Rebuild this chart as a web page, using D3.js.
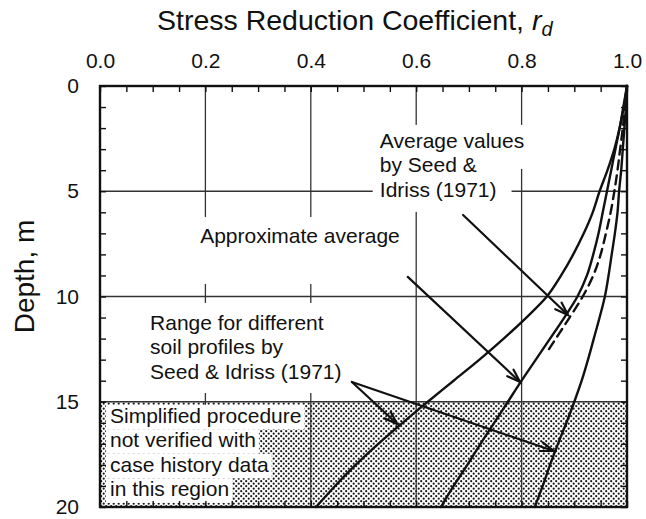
<!DOCTYPE html>
<html>
<head>
<meta charset="utf-8">
<script src="https://cdn.jsdelivr.net/npm/d3@7"></script>
<style>
  html, body { margin: 0; padding: 0; background: #fff; }
  svg { display: block; }
  text { font-family: "Liberation Sans", Arial, Helvetica, sans-serif; fill: #111; }
</style>
</head>
<body>
<svg id="chart" width="646" height="519"></svg>
<script>
// Stress reduction coefficient r_d versus depth (Seed & Idriss, 1971)

const rdTicks = [0, 0.2, 0.4, 0.6, 0.8, 1.0];
const depthTicks = [0, 5, 10, 15, 20];

// Depth (m) at which the bounding curves and the approximate average are read
const depths = [0, 1, 2, 3, 4, 5, 6, 7, 8, 9, 10, 11, 12, 13, 14, 15, 16, 17, 18, 19, 20];

// Range for different soil profiles: lower and upper bounds
const lowerBound = [1.000, 0.994, 0.986, 0.976, 0.963, 0.948, 0.935, 0.918, 0.898, 0.875,
                    0.848, 0.809, 0.766, 0.720, 0.671, 0.622, 0.574, 0.528, 0.485, 0.446, 0.410];
const upperBound = [1.000, 0.998, 0.995, 0.992, 0.989, 0.985, 0.982, 0.977, 0.971, 0.965,
                    0.958, 0.948, 0.937, 0.926, 0.914, 0.900, 0.885, 0.869, 0.854, 0.840, 0.825];

// Approximate average (solid)
const approxAverage = [1.000, 0.993, 0.986, 0.978, 0.970, 0.962, 0.954, 0.946, 0.936, 0.924,
                       0.906, 0.881, 0.854, 0.827, 0.800, 0.774, 0.748, 0.722, 0.697, 0.671, 0.647];

// Average values by Seed & Idriss (1971), dashed
const avgDepths = [0, 1, 2, 3, 4, 5, 6, 7, 8, 9, 10, 11, 12, 12.5];
const seedIdrissAverage = [1.000, 0.996, 0.992, 0.987, 0.982, 0.976, 0.969, 0.960, 0.950, 0.936,
                           0.916, 0.891, 0.865, 0.852];

// Annotation arrows: [rd, depth] start -> [rd, depth] tip
const arrows = [
  { from: [0.689, 6.13], to: [0.888, 10.88] },   // average values
  { from: [0.584, 9.07], to: [0.797, 14.06] },   // approximate average
  { from: [0.478, 14.06], to: [0.564, 16.06] },  // range, lower bound
  { from: [0.478, 14.06], to: [0.861, 17.34] }   // range, upper bound
];

// Text blocks: anchor [rd, depth] of first baseline
const notes = [
  { at: [0.531, 2.94], lines: ["Average values", "by Seed &", "Idriss (1971)"] },
  { at: [0.190, 7.46], lines: ["Approximate average"] },
  { at: [0.095, 11.59], lines: ["Range for different", "soil profiles by", "Seed & Idriss (1971)"] },
  { at: [0.019, 16.00], lines: ["Simplified procedure", "not verified with", "case history data", "in this region"] }
];
const unverifiedFrom = 15;  // depth below which the procedure is not verified

const svg = d3.select("#chart");
const W = 646, H = 519;
const margin = { left: 100, right: 19, top: 86, bottom: 12 };

const x = d3.scaleLinear().domain([0, 1]).range([margin.left, W - margin.right]);
const y = d3.scaleLinear().domain([0, 20]).range([margin.top, H - margin.bottom]);

// stipple pattern for the unverified zone
const defs = svg.append("defs");
const pat = defs.append("pattern").attr("id", "stipple")
  .attr("patternUnits", "userSpaceOnUse").attr("width", 5).attr("height", 5);
pat.append("circle").attr("cx", 1.2).attr("cy", 1.2).attr("r", 1.1).attr("fill", "#1a1a1a");
pat.append("circle").attr("cx", 3.7).attr("cy", 3.7).attr("r", 1.1).attr("fill", "#1a1a1a");

svg.append("rect")
  .attr("x", x(0)).attr("y", y(unverifiedFrom))
  .attr("width", x(1) - x(0)).attr("height", y(20) - y(unverifiedFrom))
  .attr("fill", "url(#stipple)");

// grid lines
const grid = svg.append("g").attr("stroke", "#333").attr("stroke-width", 1.3);
grid.selectAll("line.v").data(rdTicks.slice(1, -1)).join("line")
  .attr("x1", d => x(d)).attr("x2", d => x(d))
  .attr("y1", y(0)).attr("y2", y(20));
grid.selectAll("line.h").data(depthTicks.slice(1, -1)).join("line")
  .attr("x1", x(0)).attr("x2", x(1))
  .attr("y1", d => y(d)).attr("y2", d => y(d));

// white backings behind the notes
const fontSize = 21, lineGap = 24.5;
const measure = svg.append("text").attr("font-size", fontSize).attr("visibility", "hidden");
function textWidth(s) { measure.text(s); return measure.node().getComputedTextLength(); }

const backs = svg.append("g").attr("fill", "#fff");
// average values block
notes[0].lines.forEach((s, i) => {
  const bx = x(notes[0].at[0]), by = y(notes[0].at[1]) + i * lineGap;
  backs.append("rect").attr("x", bx - 7).attr("y", by - 23)
    .attr("width", textWidth(s) + 22).attr("height", i === 2 ? 38 : 44);
});
// approximate average
{
  const bx = x(notes[1].at[0]), by = y(notes[1].at[1]);
  backs.append("rect").attr("x", bx - 7).attr("y", by - 26)
    .attr("width", textWidth(notes[1].lines[0]) + 14).attr("height", 67);
}
// range block
{
  const bx = x(notes[2].at[0]), by = y(notes[2].at[1]);
  const wmax = d3.max(notes[2].lines, textWidth);
  backs.append("rect").attr("x", bx - 7).attr("y", by - 27)
    .attr("width", wmax + 12).attr("height", 2 * lineGap + 41);
}
// unverified zone text
notes[3].lines.forEach((s, i) => {
  const bx = x(notes[3].at[0]), by = y(notes[3].at[1]) + i * lineGap;
  backs.append("rect").attr("x", bx - 4).attr("y", by - 18)
    .attr("width", textWidth(s) + 7).attr("height", lineGap);
});

// inward minor ticks on all four sides
const rdMinor = d3.range(0, 1.0001, 0.05);
const depthMinor = d3.range(0, 20.0001, 1);
const tickLen = 6;
function clean(g) { g.select(".domain").remove(); g.selectAll("line").attr("stroke", "#111").attr("stroke-width", 1.4); }
svg.append("g").attr("transform", `translate(0,${y(0)})`)
  .call(d3.axisTop(x).tickValues(rdMinor).tickSize(-tickLen).tickFormat("")).call(clean);
svg.append("g").attr("transform", `translate(0,${y(20)})`)
  .call(d3.axisBottom(x).tickValues(rdMinor).tickSize(-tickLen).tickFormat("")).call(clean);
svg.append("g").attr("transform", `translate(${x(0)},0)`)
  .call(d3.axisLeft(y).tickValues(depthMinor).tickSize(-tickLen).tickFormat("")).call(clean);
svg.append("g").attr("transform", `translate(${x(1)},0)`)
  .call(d3.axisRight(y).tickValues(depthMinor).tickSize(-tickLen).tickFormat("")).call(clean);

// tick labels
const topAxis = svg.append("g").attr("transform", `translate(0,${y(0)})`)
  .call(d3.axisTop(x).tickValues(rdTicks).tickSize(0).tickPadding(18).tickFormat(d3.format(".1f")));
topAxis.select(".domain").remove();
topAxis.selectAll("text").attr("font-size", fontSize).attr("fill", "#111")
  .attr("font-family", "Liberation Sans, Arial, sans-serif");

const leftAxis = svg.append("g").attr("transform", `translate(${x(0)},0)`)
  .call(d3.axisLeft(y).tickValues(depthTicks).tickSize(0).tickPadding(21));
leftAxis.select(".domain").remove();
leftAxis.selectAll("text").attr("font-size", fontSize).attr("fill", "#111")
  .attr("font-family", "Liberation Sans, Arial, sans-serif");

// frame
svg.append("rect")
  .attr("x", x(0)).attr("y", y(0))
  .attr("width", x(1) - x(0)).attr("height", y(20) - y(0))
  .attr("fill", "none").attr("stroke", "#111").attr("stroke-width", 2.4);

// curves
const line = d3.line().x(d => x(d[0])).y(d => y(d[1])).curve(d3.curveMonotoneY);
const curves = svg.append("g").attr("fill", "none").attr("stroke", "#111")
  .attr("stroke-width", 2.4).attr("stroke-linecap", "round");
[lowerBound, approxAverage, upperBound].forEach(vals => {
  curves.append("path").attr("d", line(vals.map((v, i) => [v, depths[i]])));
});
curves.append("path")
  .attr("d", line(seedIdrissAverage.map((v, i) => [v, avgDepths[i]])))
  .attr("stroke-dasharray", "9,6");

// arrows
const arrowG = svg.append("g").attr("stroke", "#111").attr("fill", "none")
  .attr("stroke-width", 2.2).attr("stroke-linecap", "round");
arrows.forEach(a => {
  const x1 = x(a.from[0]), y1 = y(a.from[1]), x2 = x(a.to[0]), y2 = y(a.to[1]);
  arrowG.append("line").attr("x1", x1).attr("y1", y1).attr("x2", x2).attr("y2", y2);
  const ang = Math.atan2(y2 - y1, x2 - x1), L = 14, spread = 0.33;
  const p = s => [x2 - L * Math.cos(ang + s), y2 - L * Math.sin(ang + s)];
  const b1 = p(spread), b2 = p(-spread);
  arrowG.append("path").attr("d", `M${b1[0]},${b1[1]}L${x2},${y2}L${b2[0]},${b2[1]}`)
    .attr("stroke-width", 2.2).attr("stroke-linejoin", "miter");
});

// notes
notes.forEach(n => {
  const t = svg.append("text").attr("font-size", fontSize)
    .attr("x", x(n.at[0])).attr("y", y(n.at[1]));
  n.lines.forEach((s, i) => {
    t.append("tspan").attr("x", x(n.at[0])).attr("dy", i === 0 ? 0 : lineGap).text(s);
  });
});

// axis titles
const title = svg.append("text").attr("font-size", 28.5).attr("x", 157).attr("y", 30);
title.append("tspan").text("Stress Reduction Coefficient,  ");
title.append("tspan").attr("font-style", "italic").text("r");
title.append("tspan").attr("font-style", "italic").attr("font-size", 20).attr("dy", 6).text("d");

svg.append("text").attr("font-size", 28)
  .attr("transform", `translate(34,${(y(0) + y(20)) / 2 - 20}) rotate(-90)`)
  .attr("text-anchor", "middle").text("Depth, m");

measure.remove();
</script>
</body>
</html>
